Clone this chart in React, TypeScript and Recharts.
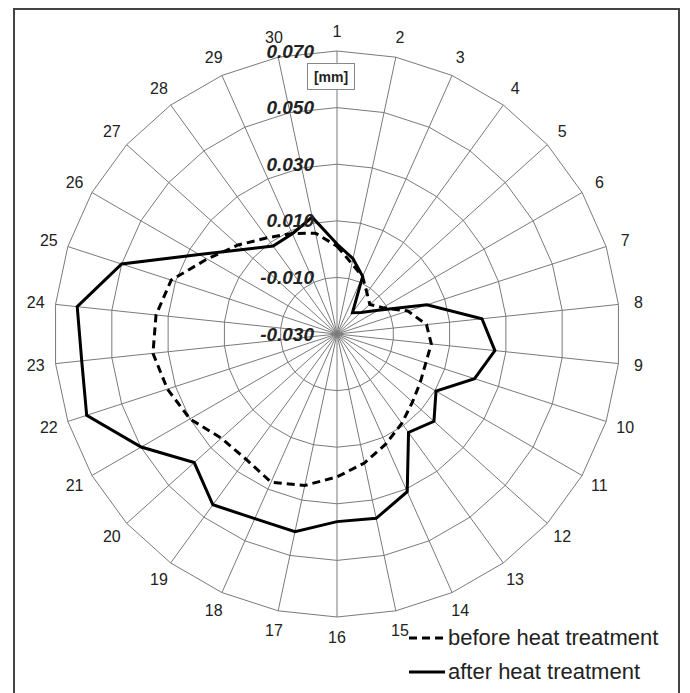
import React from 'react';
import { RadarChart, Radar, PolarGrid, PolarAngleAxis, PolarRadiusAxis, Legend } from 'recharts';

const categories = ['1','2','3','4','5','6','7','8','9','10','11','12','13','14','15','16','17','18','19','20','21','22','23','24','25','26','27','28','29','30'];
const beforeValues = [0.001,-0.0046,-0.0078,-0.012,-0.0144,-0.0114,-0.0037,0.0018,0.0035,0.003,0.004,0.0059,0.009,0.0125,0.0166,0.0205,0.0247,0.0273,0.0247,0.025,0.030,0.033,0.0354,0.0343,0.0316,0.023,0.017,0.012,0.0089,0.0064];
const afterValues = [0.0018,-0.0028,-0.0077,-0.0207,-0.0186,-0.0132,0.0034,0.0215,0.0261,0.0211,0.0104,0.0161,0.013,0.031,0.0366,0.0363,0.0414,0.0414,0.0446,0.0379,0.0499,0.063,0.0607,0.0623,0.050,0.0262,0.0146,0.0084,0.0088,0.0122];
const radiusTicks = [-0.03,-0.01,0.01,0.03,0.05,0.07];
const seriesNames = ['before heat treatment','after heat treatment'];
const unitLabel = '[mm]';

const data = categories.map((c, i) => ({ cat: c, before: beforeValues[i], after: afterValues[i] }));

const CX = 329, CY = 326, R = 283;
const FONT = '"Liberation Sans", Arial, sans-serif';
const RAD = Math.PI / 180;

const AngleTick = (props: any) => {
  const { payload } = props;
  const ang = payload.coordinate;
  const r = R + 20;
  const x = CX + r * Math.cos(-ang * RAD);
  const y = CY + r * Math.sin(-ang * RAD);
  return (
    <text x={x} y={y} textAnchor="middle" dominantBaseline="central" fontFamily={FONT} fontSize={16} fill="#222">
      {payload.value}
    </text>
  );
};

const RadiusTick = (props: any) => {
  const { x, y, payload } = props;
  return (
    <text x={x - 23} y={y} textAnchor="end" dominantBaseline="central" fontFamily={FONT} fontSize={19} fontWeight="bold" fontStyle="italic" fill="#222">
      {Number(payload.value).toFixed(3)}
    </text>
  );
};

const LegendContent = () => (
  <div style={{ fontFamily: FONT, fontSize: 22, color: '#222' }}>
    {seriesNames.map((n, i) => (
      <div key={n} style={{ display: 'flex', alignItems: 'center', height: 34 }}>
        <svg width={39} height={10} style={{ display: 'block' }}>
          <line x1={0} y1={5} x2={36} y2={5} stroke="#000" strokeWidth={3} strokeDasharray={i === 0 ? '8 5' : undefined} />
        </svg>
        <span style={{ lineHeight: '34px' }}>{n}</span>
      </div>
    ))}
  </div>
);

export default function App() {
  return (
    <div style={{ position: 'relative', width: 674, height: 685 }}>
      <div style={{ position: 'absolute', left: 5, top: 0, width: 667, height: 690, border: '2px solid #444', boxSizing: 'border-box', borderBottom: 'none' }} />
      <RadarChart width={674} height={685} data={data} cx={CX} cy={CY} outerRadius={R} margin={{ top: 0, right: 0, bottom: 0, left: 0 }}>
        <PolarGrid gridType="polygon" stroke="#7a7a7a" strokeWidth={1} />
        <PolarAngleAxis dataKey="cat" tick={AngleTick} tickLine={false} axisLine={false} />
        <PolarRadiusAxis angle={90} type="number" domain={[-0.03, 0.07]} ticks={radiusTicks} tickCount={6} axisLine={false} tickLine={false} tick={RadiusTick} allowDataOverflow />
        <Radar name={seriesNames[0]} dataKey="before" stroke="#000" strokeWidth={3} strokeDasharray="8 5" fill="none" fillOpacity={0} dot={false} isAnimationActive={false} />
        <Radar name={seriesNames[1]} dataKey="after" stroke="#000" strokeWidth={3} fill="none" fillOpacity={0} dot={false} isAnimationActive={false} />
        <Legend content={LegendContent} wrapperStyle={{ position: 'absolute', left: 401, top: 613, width: 275 }} />
      </RadarChart>
      <div style={{ position: 'absolute', left: 299, top: 55, width: 48, height: 27, border: '1px solid #888', background: '#fff', boxSizing: 'border-box', fontFamily: FONT, fontSize: 14, fontWeight: 'bold', color: '#222', display: 'flex', alignItems: 'center', justifyContent: 'center' }}>
        {unitLabel}
      </div>
    </div>
  );
}
